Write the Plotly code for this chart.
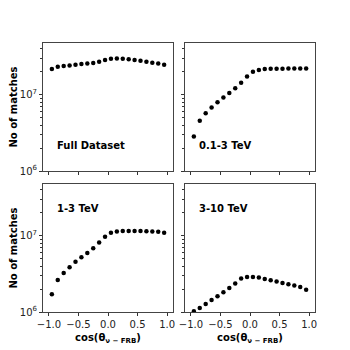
import plotly.graph_objects as go
from plotly.subplots import make_subplots

cos_theta = [-0.95, -0.85, -0.75, -0.65, -0.55, -0.45, -0.35, -0.25, -0.15, -0.05,
             0.05, 0.15, 0.25, 0.35, 0.45, 0.55, 0.65, 0.75, 0.85, 0.95]

full_dataset = [2.18e7, 2.33e7, 2.38e7, 2.43e7, 2.48e7, 2.54e7, 2.58e7, 2.61e7, 2.72e7, 2.86e7,
                2.98e7, 3.0e7, 2.98e7, 2.92e7, 2.86e7, 2.80e7, 2.72e7, 2.64e7, 2.58e7, 2.48e7]
tev_01_3 = [2.83e6, 4.55e6, 5.74e6, 6.81e6, 8.0e6, 9.2e6, 1.06e7, 1.22e7, 1.44e7, 1.74e7,
            2.01e7, 2.11e7, 2.18e7, 2.2e7, 2.2e7, 2.2e7, 2.21e7, 2.21e7, 2.21e7, 2.22e7]
tev_1_3 = [1.71e6, 2.64e6, 3.26e6, 3.87e6, 4.55e6, 5.24e6, 5.97e6, 6.89e6, 8.17e6, 9.7e6,
           1.10e7, 1.14e7, 1.16e7, 1.16e7, 1.16e7, 1.16e7, 1.15e7, 1.14e7, 1.13e7, 1.10e7]
tev_3_10 = [1.02e6, 1.13e6, 1.27e6, 1.44e6, 1.61e6, 1.82e6, 2.07e6, 2.36e6, 2.75e6, 2.89e6,
            2.89e6, 2.83e6, 2.72e6, 2.61e6, 2.51e6, 2.41e6, 2.31e6, 2.22e6, 2.13e6, 1.96e6]

panel_labels = ["Full Dataset", "0.1-3 TeV", "1-3 TeV", "3-10 TeV"]
series = [full_dataset, tev_01_3, tev_1_3, tev_3_10]

x_ticks = [-1.0, -0.5, 0.0, 0.5, 1.0]
x_ticktext = ["\u22121.0", "\u22120.5", "0.0", "0.5", "1.0"]
y_ticks = [1e6, 1e7]
y_ticktext = ["10<sup>6</sup>", "10<sup>7</sup>"]
y_minor = [2e6, 3e6, 4e6, 5e6, 6e6, 7e6, 8e6, 9e6, 2e7, 3e7, 4e7]

fig = make_subplots(rows=2, cols=2, shared_xaxes=True, shared_yaxes=True,
                    horizontal_spacing=12 / 272, vertical_spacing=13 / 269)

positions = [(1, 1), (1, 2), (2, 1), (2, 2)]
label_y = [6.34, 6.34, 7.355, 7.355]

for i, (r, c) in enumerate(positions):
    fig.add_trace(go.Scatter(x=cos_theta, y=series[i], mode="markers",
                             marker=dict(color="black", size=4.5, symbol="circle"),
                             showlegend=False), row=r, col=c)
    # panel label
    fig.add_annotation(x=-0.9, y=label_y[i], text="<b>" + panel_labels[i] + "</b>",
                       showarrow=False, xanchor="left", yanchor="middle",
                       font=dict(size=10, color="black"), row=r, col=c)

fig.update_xaxes(range=[-1.1, 1.1], tickvals=x_ticks, ticktext=x_ticktext,
                 ticks="outside", ticklen=3, tickcolor="#333", showline=True, mirror=True,
                 linecolor="#444", linewidth=1, showgrid=False, zeroline=False,
                 automargin=False, tickfont=dict(size=10, color="#222"))
fig.update_yaxes(type="log", range=[6, 7.68], tickvals=y_ticks, ticktext=y_ticktext,
                 ticks="outside", ticklen=3, tickcolor="#333", showline=True, mirror=True,
                 linecolor="#444", linewidth=1, showgrid=False, zeroline=False,
                 automargin=False,
                 minor=dict(tickvals=y_minor, ticks="outside", ticklen=2, tickcolor="#333"),
                 tickfont=dict(size=10, color="#222"))

for c in (1, 2):
    fig.update_xaxes(title_text="<b>cos(\u03b8<sub>\u03bd \u2212 FRB</sub>)</b>",
                     title_font=dict(size=10, color="black"), title_standoff=4, row=2, col=c)
for r in (1, 2):
    fig.update_yaxes(title_text="<b>No of matches</b>",
                     title_font=dict(size=10, color="black"), title_standoff=5, row=r, col=1)

# page has ~8px body margin, so figure is a bit smaller than the window
fig.update_layout(width=342, height=342, margin=dict(l=35, r=35, t=35, b=38),
                  paper_bgcolor="white", plot_bgcolor="white",
                  font=dict(family="DejaVu Sans", color="black"))

fig.write_html("out.html")
